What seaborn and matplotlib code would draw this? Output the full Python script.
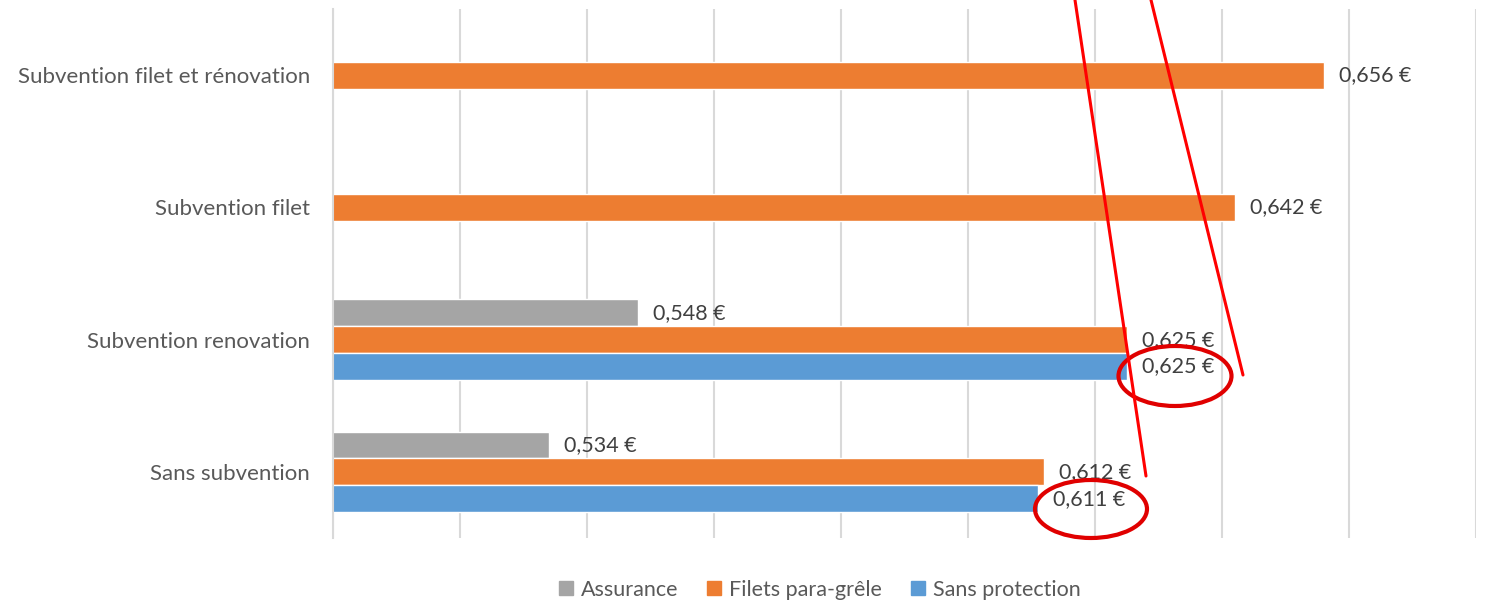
import matplotlib
matplotlib.use("Agg")
import matplotlib.pyplot as plt
from matplotlib.patches import Ellipse
from matplotlib.lines import Line2D
import seaborn as sns
import pandas as pd

# data
categories = ["Subvention filet et rénovation", "Subvention filet",
              "Subvention renovation", "Sans subvention"]
series = ["Assurance", "Filets para-grêle", "Sans protection"]
colors = ["#A5A5A5", "#ED7D31", "#5B9BD5"]

assurance = [None, None, 0.548, 0.534]
filets = [0.656, 0.642, 0.625, 0.612]
sans_protection = [None, None, 0.625, 0.611]

rows = []
for name, vals in zip(series, [assurance, filets, sans_protection]):
    for cat, v in zip(categories, vals):
        if v is not None:
            rows.append({"cat": cat, "serie": name, "valeur": v})
df = pd.DataFrame(rows)

sns.set_style("white")
plt.rcParams["font.family"] = ["Lato", "DejaVu Sans"]

fig = plt.figure(figsize=(14.85, 6.06), dpi=100)
ax = fig.add_axes([333 / 1485, 1 - 538 / 606, (1476 - 333) / 1485, (538 - 9) / 606])

sns.barplot(data=df, x="valeur", y="cat", hue="serie", order=categories,
            hue_order=series, palette=colors, saturation=1, width=0.61,
            orient="h", ax=ax, legend=False)

ax.set_xlim(0.5, 0.68)
ax.set_xticks([0.5 + 0.02 * i for i in range(10)])
ax.xaxis.grid(True, color="#D9D9D9", linewidth=1.5)
ax.set_axisbelow(True)
ax.tick_params(axis="x", length=0, labelbottom=False)
ax.set_xlabel("")
ax.set_ylabel("")
for s in ["top", "right", "bottom"]:
    ax.spines[s].set_visible(False)
ax.spines["left"].set_color("#D9D9D9")
ax.spines["left"].set_linewidth(1.5)

# category labels without ticks, ticks at the boundaries
ax.tick_params(axis="y", which="major", length=0, pad=16.5, labelsize=16, labelcolor="#595959")
ax.set_yticks([i + 0.5 for i in range(-1, len(categories))], minor=True)
ax.tick_params(axis="y", which="minor", length=7, width=1.5, color="#D9D9D9")

for c in ax.containers:
    labels = [f"{v:.3f}".replace(".", ",") + " €" for v in c.datavalues]
    ax.bar_label(c, labels=labels, padding=11, fontsize=15.5, color="#404040")

handles = [Line2D([], [], marker="s", linestyle="", markersize=10, color=col) for col in colors]
fig.legend(handles, series, loc="center", bbox_to_anchor=(0.552, 1 - 590 / 606),
           ncol=3, frameon=False, fontsize=15.5, handlelength=0.7, handletextpad=0.35,
           columnspacing=1.3, labelcolor="#595959")

# red annotations drawn over the chart (pixel positions of the figure)
H = 606
def px(x, y):
    return x / 1485, 1 - y / H

for (x0, y0), (x1, y1) in [((1075, 0), (1146, 476)), ((1151, 0), (1243, 375))]:
    a, b = px(x0, y0)
    c_, d = px(x1, y1)
    fig.add_artist(Line2D([a, c_], [b, d], color="#FF0000", linewidth=2.2,
                          transform=fig.transFigure))
for (cx, cy, w, h) in [(1175, 376, 113, 60), (1091, 509, 112, 58)]:
    x, y = px(cx, cy)
    fig.add_artist(Ellipse((x, y), w / 1485, h / H, fill=False, edgecolor="#E00000",
                           linewidth=3, transform=fig.transFigure))

fig.savefig("out.png", dpi=100)
